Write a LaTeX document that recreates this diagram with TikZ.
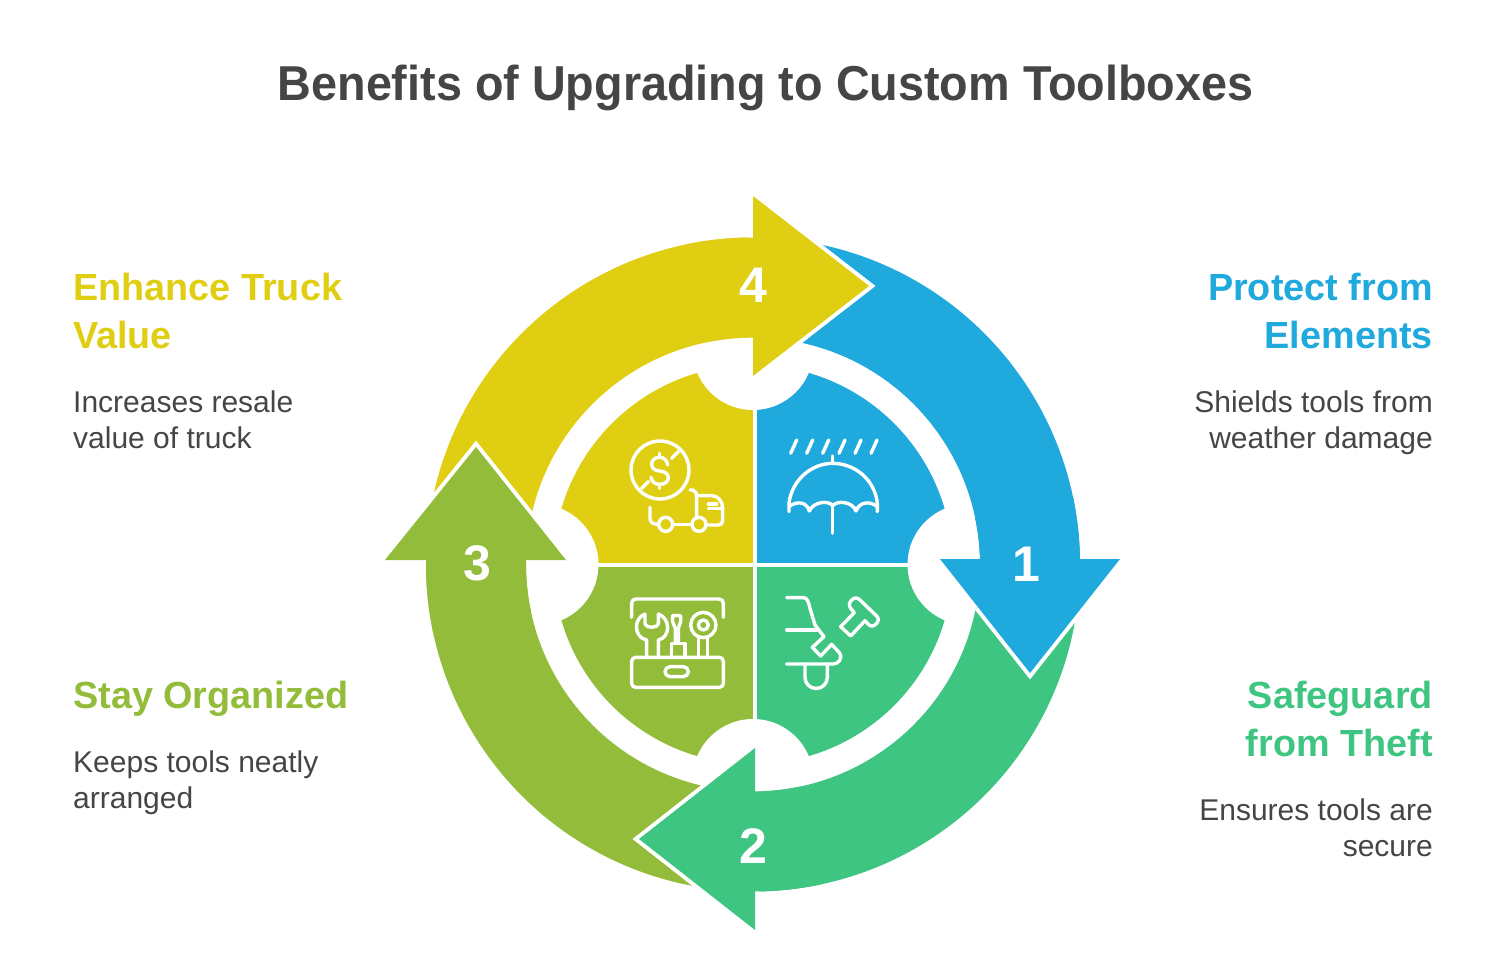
\documentclass[tikz,border=0pt]{standalone}
\usepackage{fontspec}
\setmainfont{Liberation Sans}
\newfontfamily\titlefont[FakeStretch=0.954]{Liberation Sans}
\definecolor{cblue}{HTML}{1FA9DC}
\definecolor{cgreen}{HTML}{3EC582}
\definecolor{colive}{HTML}{92BC39}
\definecolor{cyellow}{HTML}{E0CE13}
\definecolor{cdark}{HTML}{454545}
\newcommand{\ringseg}[3]{\fill[#1] (#2:327) arc[start angle=#2,end angle=#3,radius=327] -- (#3:227) arc[start angle=#3,end angle=#2,radius=227] -- cycle;}
\tikzset{
  headhalo/.style={draw=white,line width=8pt,miter limit=10,line join=miter,fill=white},
  icon/.style={draw=white,line width=3.4pt,line cap=round,line join=round},
  numlabel/.style={text=white,inner sep=0pt,font=\fontsize{50}{50}\selectfont\bfseries},
  headlabel/.style={inner sep=0pt,font=\fontsize{37.8}{48}\selectfont\bfseries},
  bodylabel/.style={inner sep=0pt,text=cdark,font=\fontsize{30}{36}\selectfont},
}
\begin{document}
\begin{tikzpicture}[x=1pt,y=1pt,yscale=-1]
\useasboundingbox (0,0) rectangle (1510,976);
% inner quadrants
\begin{scope}
  \clip (753,564.5) circle[radius=199.5];
  \fill[cyellow] (500,300) rectangle (753,563);
  \fill[cblue] (757,300) rectangle (1000,563);
  \fill[colive] (500,567) rectangle (753,800);
  \fill[cgreen] (757,567) rectangle (1000,800);
\end{scope}
\fill[white] (753,349.5) circle[radius=60.5];
\fill[white] (753,779.5) circle[radius=60.5];
\fill[white] (538,564.5) circle[radius=60.5];
\fill[white] (968,564.5) circle[radius=60.5];
% ring
\begin{scope}[shift={(753,564.5)}]
  \ringseg{cblue}{-80}{0}
  \ringseg{cgreen}{10}{90}
  \ringseg{colive}{100}{182}
  \ringseg{cyellow}{190}{270}
\end{scope}
% arrow heads
\draw[headhalo] (940,559) -- (1120,559) -- (1030,673) -- cycle;
\draw[headhalo] (755,748) -- (755,930) -- (639,839) -- cycle;
\draw[headhalo] (385,560) -- (566,560) -- (476,447) -- cycle;
\draw[headhalo] (753,196) -- (753,376) -- (869,286) -- cycle;
\begin{scope}[shift={(753,564.5)}]
  \ringseg{cblue}{-12}{0}
  \ringseg{cgreen}{78}{90}
  \ringseg{colive}{168}{182}
  \ringseg{cyellow}{258}{270}
\end{scope}
\fill[cblue] (940,559) -- (1120,559) -- (1030,673) -- cycle;
\fill[cgreen] (755,748) -- (755,930) -- (639,839) -- cycle;
\fill[colive] (385,560) -- (566,560) -- (476,447) -- cycle;
\fill[cyellow] (753,196) -- (753,376) -- (869,286) -- cycle;
% numbers
\node[numlabel] (n1) at (1026,564) {1};
\node[numlabel] (n2) at (753,846) {2};
\node[numlabel] (n3) at (477,563) {3};
\node[numlabel] (n4) at (753,285) {4};
% yellow icon
\begin{scope}[shift={(620,430)},scale=0.33333]
  \draw[icon] (120,120) circle[radius=87];
  \draw[icon] (175,65) -- (155,85);
  \draw[icon] (65,175) -- (85,155);
  \draw[icon] (143,105) .. controls (141,90) and (131,82) .. (119,82) .. controls (105,82) and (95,90) .. (95,103) .. controls (95,116) and (106,122) .. (119,123) .. controls (132,124) and (145,130) .. (145,143) .. controls (145,156) and (133,163) .. (119,163) .. controls (105,163) and (95,155) .. (93,142);
  \draw[icon] (119,70) -- (119,82);
  \draw[icon] (119,163) -- (119,175);
  \draw[icon] (137,283) circle[radius=21];
  \draw[icon] (237,283) circle[radius=21];
  \draw[icon] (90,232) -- (90,265) .. controls (90,278) and (100,283) .. (115,283);
  \draw[icon] (159,283) -- (215,283);
  \draw[icon] (210,180) -- (218,180) .. controls (227,182) and (230,190) .. (230,200) -- (230,263);
  \draw[icon] (230,197) -- (275,197) .. controls (295,197) and (308,215) .. (308,235) -- (308,272) .. controls (308,280) and (302,285) .. (295,285) -- (260,285);
  \draw[icon] (265,235) -- (308,235);
  \draw[icon] (265,222) -- (290,222);
\end{scope}
% blue icon
\begin{scope}[shift={(750,360)},scale=0.33333]
  \foreach \rx in {122,170,218,267,315,363}{
    \draw[icon] (\rx,280) -- (\rx+18,240);
  }
  \draw[icon] (117,455) -- (117,430) .. controls (125,360) and (185,310) .. (248,310) .. controls (315,310) and (375,360) .. (382,430) -- (382,455);
  \draw[icon] (248,288) -- (248,310);
  \draw[icon] (117,440) .. controls (140,422) and (170,425) .. (178,453) .. controls (190,425) and (235,420) .. (248,437) .. controls (262,420) and (308,425) .. (318,453) .. controls (328,425) and (360,422) .. (382,440);
  \draw[icon] (248,437) -- (248,520);
\end{scope}
% olive icon
\begin{scope}[shift={(550,560)},scale=0.33333]
  \draw[icon] (245,172) -- (245,130) .. controls (245,122) and (250,117) .. (258,117) -- (507,117) .. controls (515,117) and (520,122) .. (520,130) -- (520,172);
  \draw[icon] (257,292) -- (508,292) .. controls (515,292) and (520,297) .. (520,304) -- (520,370) .. controls (520,377) and (515,382) .. (508,382) -- (257,382) .. controls (250,382) and (245,377) .. (245,370) -- (245,304) .. controls (245,297) and (250,292) .. (257,292) -- cycle;
  \draw[icon] (360,320) -- (400,320) arc[start angle=-90,end angle=90,radius=15] -- (360,350) arc[start angle=90,end angle=270,radius=15] -- cycle;
  \draw[icon] (285,162) .. controls (250,175) and (250,232) .. (290,240) -- (290,290);
  \draw[icon] (325,162) .. controls (362,175) and (362,232) .. (325,240) -- (325,290);
  \draw[icon] (285,162) -- (285,192) .. controls (288,205) and (322,205) .. (325,192) -- (325,162);
  \draw[icon] (368,167) -- (392,167) -- (392,185) -- (385,205) -- (385,250);
  \draw[icon] (368,167) -- (368,185) -- (376,205) -- (376,250);
  \draw[icon] (365,250) -- (405,250) -- (405,292) -- (365,292) -- cycle;
  \draw[icon] (460,195) circle[radius=38];
  \draw[icon] (460,195) circle[radius=15];
  \draw[icon] (445,232) -- (445,290);
  \draw[icon] (473,232) -- (473,290);
\end{scope}
% green icon
\begin{scope}[shift={(750,560)},scale=0.33333]
  \draw[icon] (110,113) -- (160,113) .. controls (172,113) and (175,125) .. (180,145) -- (195,195) -- (222,230) -- (187,262) -- (212,288) -- (245,253) -- (268,278) .. controls (280,295) and (265,312) .. (250,312) -- (110,312);
  \draw[icon] (110,210) -- (200,210);
  \draw[icon] (165,312) -- (165,352) arc[start angle=180,end angle=0,radius=33.5] -- (232,312);
  \draw[icon] (272,200) -- (313,158) -- (302,145) .. controls (295,135) and (298,128) .. (305,120) .. controls (312,112) and (322,112) .. (330,120) -- (380,168) .. controls (388,176) and (385,185) .. (378,192) .. controls (370,200) and (362,200) .. (355,193) -- (345,182) -- (302,228) -- cycle;
\end{scope}
% title
\node[inner sep=0pt,text=cdark,font=\titlefont\fontsize{49}{50}\selectfont\bfseries,anchor=base] (title) at (765.5,101) {Benefits of Upgrading to Custom Toolboxes};
% left / right labels
\node[headlabel,text=cyellow,align=left,anchor=north west] (h4) at (73,273) {Enhance Truck\\Value};
\node[bodylabel,align=left,anchor=north west] (b4) at (73,391) {Increases resale\\value of truck};
\node[headlabel,text=cblue,align=right,anchor=north east] (h1) at (1433,273) {Protect from\\Elements};
\node[bodylabel,align=right,anchor=north east] (b1) at (1433,391) {Shields tools from\\weather damage};
\node[headlabel,text=colive,align=left,anchor=north west] (h3) at (73,681) {Stay Organized};
\node[bodylabel,align=left,anchor=north west] (b3) at (73,751) {Keeps tools neatly\\arranged};
\node[headlabel,text=cgreen,align=right,anchor=north east] (h2) at (1433,681) {Safeguard\\from Theft};
\node[bodylabel,align=right,anchor=north east] (b2) at (1433,799) {Ensures tools are\\secure};
\end{tikzpicture}
\end{document}
